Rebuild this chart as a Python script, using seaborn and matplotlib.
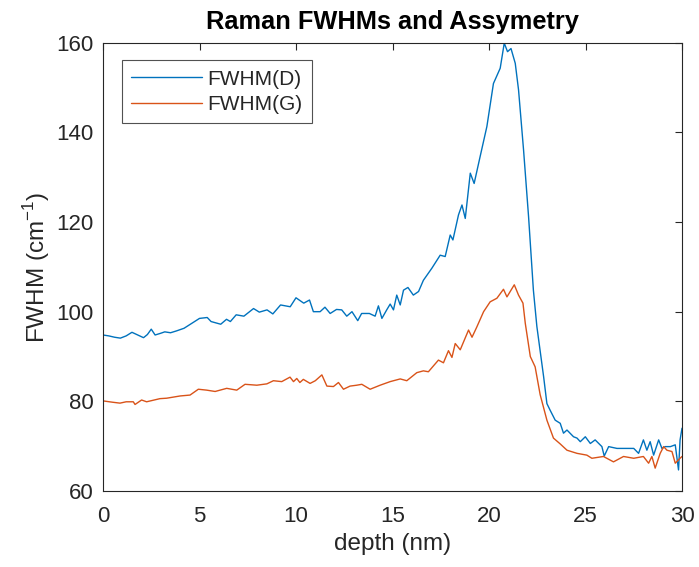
import matplotlib
matplotlib.use("Agg")
import matplotlib.pyplot as plt
import seaborn as sns
import pandas as pd

depth_d = [0.0, 0.3, 0.6, 0.9, 1.2, 1.5, 1.8, 2.1, 2.3, 2.5, 2.7, 3.0, 3.2, 3.5, 3.8, 4.2, 4.6,
           5.0, 5.4, 5.6, 6.1, 6.4, 6.6, 6.9, 7.3, 7.8, 8.1, 8.5, 8.8, 9.2, 9.7, 10.0, 10.4,
           10.7, 10.9, 11.25, 11.5, 11.77, 12.1, 12.37, 12.63, 12.9, 13.2, 13.4, 13.8, 14.1,
           14.27, 14.45, 14.7, 14.88, 15.05, 15.22, 15.4, 15.57, 15.8, 16.08, 16.35, 16.6,
           17.04, 17.47, 17.73, 17.99, 18.13, 18.42, 18.6, 18.77, 19.03, 19.23, 19.54, 19.89,
           20.23, 20.58, 20.79, 20.96, 21.14, 21.36, 21.53, 21.79, 22.05, 22.3, 22.48, 22.83,
           23.0, 23.17, 23.43, 23.69, 23.86, 24.04, 24.38, 24.56, 24.73, 24.99, 25.25, 25.5,
           25.85, 25.97, 26.2, 26.63, 27.15, 27.5, 27.75, 28.0, 28.18, 28.35, 28.53, 28.79,
           28.96, 29.13, 29.4, 29.65, 29.82, 29.9, 30.0]
fwhm_d = [94.8, 94.6, 94.3, 94.1, 94.6, 95.4, 94.8, 94.2, 94.9, 96.1, 94.8, 95.2, 95.5, 95.3,
          95.7, 96.3, 97.4, 98.5, 98.7, 97.8, 97.2, 98.3, 97.8, 99.3, 99.0, 100.7, 99.9, 100.4,
          99.5, 101.5, 101.1, 103.1, 101.9, 102.6, 100.0, 100.0, 101.0, 99.6, 100.5, 100.4,
          99.0, 100.0, 98.0, 99.6, 99.6, 99.0, 101.3, 98.5, 100.4, 101.7, 100.4, 103.7, 101.5,
          104.8, 105.4, 103.7, 104.5, 107.0, 109.7, 112.6, 112.3, 117.1, 116.0, 121.6, 123.8,
          120.8, 130.9, 128.6, 134.6, 141.3, 150.9, 154.3, 159.9, 158.0, 158.7, 155.4, 149.5,
          136.1, 121.2, 104.8, 96.7, 85.5, 79.5, 78.0, 75.8, 75.1, 72.9, 73.6, 72.1, 71.8,
          71.0, 72.1, 70.6, 71.4, 69.9, 67.8, 69.9, 69.5, 69.5, 69.5, 68.4, 71.4, 69.1, 71.0,
          68.0, 71.4, 69.5, 69.9, 69.9, 70.3, 64.7, 71.4, 74.0]

depth_g = [0.0, 0.5, 0.88, 1.2, 1.57, 1.66, 2.0, 2.26, 2.95, 3.3, 4.0, 4.51, 4.94, 5.37, 5.81,
           6.41, 6.93, 7.36, 7.97, 8.49, 8.83, 9.26, 9.69, 9.87, 10.04, 10.2, 10.38, 10.73,
           11.0, 11.34, 11.6, 11.94, 12.2, 12.46, 12.8, 13.15, 13.41, 13.84, 14.36, 14.88,
           15.4, 15.74, 16.26, 16.6, 16.86, 17.38, 17.64, 17.9, 18.08, 18.25, 18.51, 18.94,
           19.12, 19.37, 19.72, 20.06, 20.41, 20.75, 20.93, 21.31, 21.53, 21.76, 21.88, 22.14,
           22.39, 22.65, 23.0, 23.34, 23.69, 24.04, 24.56, 25.07, 25.33, 25.93, 26.45, 26.97,
           27.5, 28.0, 28.27, 28.44, 28.61, 28.87, 29.05, 29.22, 29.48, 29.65, 29.9, 30.0]
fwhm_g = [80.1, 79.8, 79.6, 79.9, 79.9, 79.3, 80.3, 79.9, 80.6, 80.7, 81.2, 81.4, 82.7, 82.5,
          82.2, 82.9, 82.5, 83.8, 83.6, 83.9, 84.6, 84.4, 85.4, 84.4, 85.1, 84.2, 84.9, 84.0,
          84.6, 85.9, 83.4, 83.3, 84.2, 82.7, 83.4, 83.6, 83.8, 82.7, 83.6, 84.4, 85.0, 84.6,
          86.4, 86.8, 86.6, 89.2, 88.6, 91.3, 89.8, 92.9, 91.5, 95.9, 94.3, 96.6, 100.0, 102.2,
          103.0, 105.0, 103.3, 106.0, 103.7, 101.9, 97.4, 90.0, 87.7, 81.5, 75.8, 71.8, 70.5,
          69.1, 68.4, 68.0, 67.3, 67.7, 66.5, 67.7, 67.3, 67.7, 66.2, 67.7, 65.1, 68.4, 69.9,
          69.1, 68.8, 66.2, 67.3, 67.7]

x_ticks = [0, 5, 10, 15, 20, 25, 30]
y_ticks = [60, 80, 100, 120, 140, 160]

sns.set_style("white")
plt.rcParams['font.family'] = ['Liberation Sans', 'DejaVu Sans']
plt.rcParams['mathtext.fontset'] = 'custom'
plt.rcParams['mathtext.rm'] = 'Liberation Sans'

fig = plt.figure(figsize=(6.99, 5.67), dpi=100)
ax = fig.add_axes([103 / 699, 1 - 491 / 567, (682 - 103) / 699, (491 - 42.7) / 567])

df_d = pd.DataFrame({"depth": depth_d, "fwhm": fwhm_d})
df_g = pd.DataFrame({"depth": depth_g, "fwhm": fwhm_g})
sns.lineplot(data=df_d, x="depth", y="fwhm", ax=ax, color="#0072BD", lw=1.0,
             estimator=None, sort=False, label="FWHM(D)")
sns.lineplot(data=df_g, x="depth", y="fwhm", ax=ax, color="#D95319", lw=1.0,
             estimator=None, sort=False, label="FWHM(G)")

ax.set_xlim(0, 30)
ax.set_ylim(60, 160)
ax.set_xticks(x_ticks)
ax.set_yticks(y_ticks)
ax.tick_params(direction="in", top=True, right=True, length=5, width=0.8,
               colors="#262626", labelsize=16)
ax.tick_params(axis="x", pad=11)
ax.tick_params(axis="y", pad=7)
for s in ax.spines.values():
    s.set_color("#262626")
    s.set_linewidth(0.8)

ax.set_xlabel("depth (nm)", fontsize=17.5, color="#262626", labelpad=4)
ax.set_ylabel("FWHM (cm$^{-1}$)", fontsize=17.5, color="#262626", labelpad=3)
ax.set_title("Raman FWHMs and Assymetry", fontsize=18.3, fontweight="bold", color="black", pad=10)

leg = ax.legend(loc="upper left", bbox_to_anchor=(0.033, 0.961), fontsize=15,
                frameon=True, fancybox=False, edgecolor="#262626", handlelength=3.4,
                borderpad=0.45, labelspacing=0.3, handletextpad=0.25, borderaxespad=0)
leg.get_frame().set_linewidth(0.8)

fig.savefig("out.png", dpi=100)
